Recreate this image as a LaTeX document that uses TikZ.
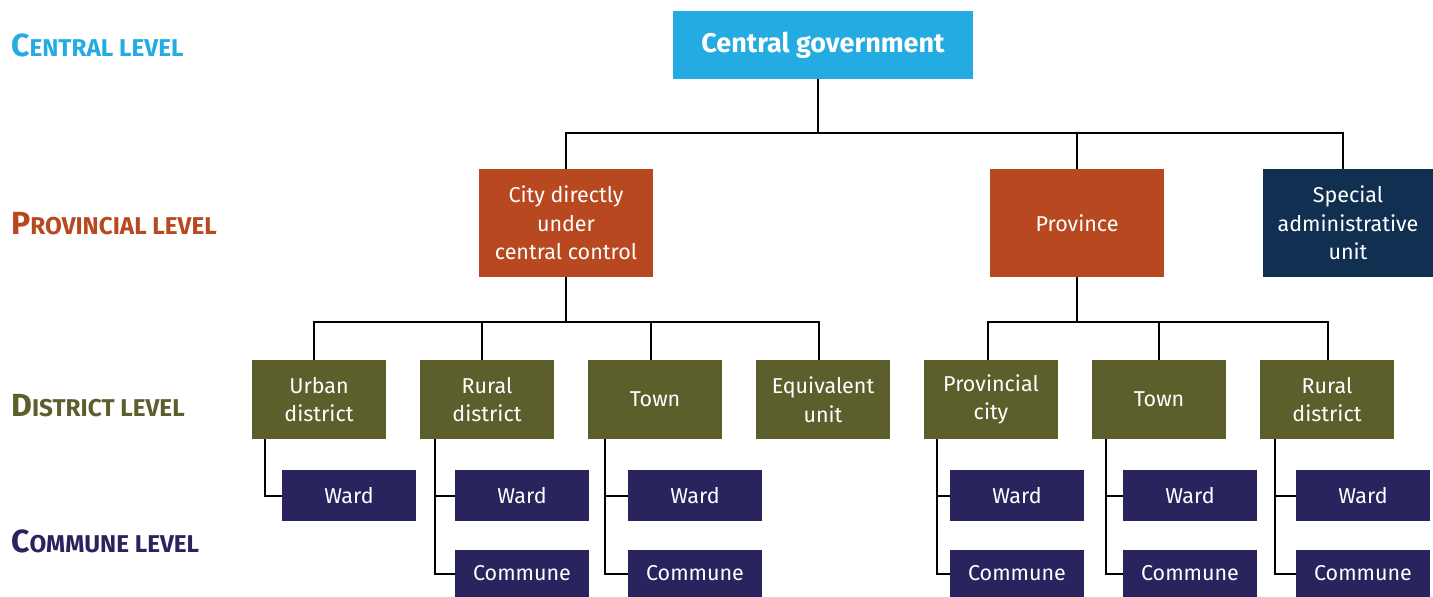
\documentclass[tikz,border=0pt]{standalone}
\usepackage{fontspec}
\setmainfont{Fira Sans}
\usetikzlibrary{positioning}
\definecolor{centralcol}{RGB}{36,171,226}
\definecolor{provcol}{RGB}{183,72,31}
\definecolor{specialcol}{RGB}{17,48,81}
\definecolor{distcol}{RGB}{92,95,44}
\definecolor{commcol}{RGB}{41,36,94}
\newcommand{\levelname}[2]{{\fontsize{32}{32}\selectfont #1}{\fontsize{24.3}{24.3}\selectfont #2}}

\begin{document}
\begin{tikzpicture}[x=1pt, y=-1pt,
    boxnode/.style={text=white, align=center, inner sep=0pt, font=\fontsize{21.5}{28.5}\selectfont},
    govnode/.style={boxnode, fill=centralcol, minimum width=300pt, minimum height=68pt, font=\fontsize{27}{28}\selectfont\bfseries},
    provnode/.style={boxnode, fill=provcol, minimum width=174pt, minimum height=108pt},
    specnode/.style={boxnode, fill=specialcol, minimum width=170pt, minimum height=108pt},
    distnode/.style={boxnode, fill=distcol, minimum width=134pt, minimum height=79pt},
    wardnode/.style={boxnode, fill=commcol, minimum width=134pt, minimum height=51pt},
    communenode/.style={boxnode, fill=commcol, minimum width=134pt, minimum height=47pt},
    level/.style={anchor=west, inner sep=0pt, font=\bfseries},
    link/.style={line width=2pt, black}]

    \useasboundingbox (0,0) rectangle (1433,597);

    % levels
    \node[level, text=centralcol] (lcentral) at (11,45) {\levelname{C}{ENTRAL LEVEL}};
    \node[level, text=provcol] (lprov) at (11,224) {\levelname{P}{ROVINCIAL LEVEL}};
    \node[level, text=distcol] (ldist) at (11,406) {\levelname{D}{ISTRICT LEVEL}};
    \node[level, text=commcol] (lcomm) at (11,541) {\levelname{C}{OMMUNE LEVEL}};

    % central and provincial
    \node[govnode] (gov) at (823,45) {Central government};
    \node[provnode] (city) at (566,223) {City directly\\under\\central control};
    \node[provnode] (prov) at (1077,223) {Province};
    \node[specnode] (spec) at (1348,223) {Special\\administrative\\unit};

    \coordinate (bustop) at (818,133);
    \draw[link] ([xshift=-5pt]gov.south) -- (bustop);
    \draw[link] (city.north) |- (bustop) -| ([xshift=-5pt]spec.north);
    \draw[link] (prov.north) -- (prov.north |- bustop);

    % district level
    \node[distnode] (urban) at (319,399.5) {Urban\\district};
    \node[distnode] (rural) at (487,399.5) {Rural\\district};
    \node[distnode] (town) at (655,399.5) {Town};
    \node[distnode] (equiv) at (823,399.5) {Equivalent\\unit};
    \node[distnode] (pcity) at (991,399.5) {Provincial\\city};
    \node[distnode] (ptown) at (1159,399.5) {Town};
    \node[distnode] (prural) at (1327,399.5) {Rural\\district};

    \coordinate (busleft) at (566,321.5);
    \coordinate (busright) at (1077,321.5);
    \draw[link] (city) -- (busleft);
    \draw[link] ([xshift=-5pt]urban.north) |- (busleft) -| ([xshift=-4pt]equiv.north);
    \draw[link] ([xshift=-5pt]rural.north) -- ([xshift=-5pt]rural.north |- busleft);
    \draw[link] ([xshift=-4pt]town.north) -- ([xshift=-4pt]town.north |- busleft);
    \draw[link] (prov) -- (busright);
    \draw[link] ([xshift=-3pt]pcity.north) |- (busright) -| ([xshift=1pt]prural.north);
    \draw[link] (ptown.north) -- (ptown.north |- busright);

    % commune level
    \node[wardnode] (ward1) at (349,495.5) {Ward};
    \node[wardnode] (ward2) at (522,495.5) {Ward};
    \node[communenode] (comm2) at (522,573.5) {Commune};
    \node[wardnode] (ward3) at (695,495.5) {Ward};
    \node[communenode] (comm3) at (695,573.5) {Commune};
    \node[wardnode] (ward4) at (1017,495.5) {Ward};
    \node[communenode] (comm4) at (1017,573.5) {Commune};
    \node[wardnode] (ward5) at (1190,495.5) {Ward};
    \node[communenode] (comm5) at (1190,573.5) {Commune};
    \node[wardnode] (ward6) at (1363,495.5) {Ward};
    \node[communenode] (comm6) at (1363,573.5) {Commune};

    \draw[link] ([xshift=13pt]urban.south west) |- (ward1.west);
    \draw[link] ([xshift=15pt]rural.south west) |- (ward2.west);
    \draw[link] ([xshift=15pt]rural.south west) |- (comm2.west);
    \draw[link] ([xshift=17pt]town.south west) |- (ward3.west);
    \draw[link] ([xshift=17pt]town.south west) |- (comm3.west);
    \draw[link] ([xshift=13pt]pcity.south west) |- (ward4.west);
    \draw[link] ([xshift=13pt]pcity.south west) |- (comm4.west);
    \draw[link] ([xshift=14pt]ptown.south west) |- (ward5.west);
    \draw[link] ([xshift=14pt]ptown.south west) |- (comm5.west);
    \draw[link] ([xshift=15pt]prural.south west) |- (ward6.west);
    \draw[link] ([xshift=15pt]prural.south west) |- (comm6.west);

\end{tikzpicture}
\end{document}
